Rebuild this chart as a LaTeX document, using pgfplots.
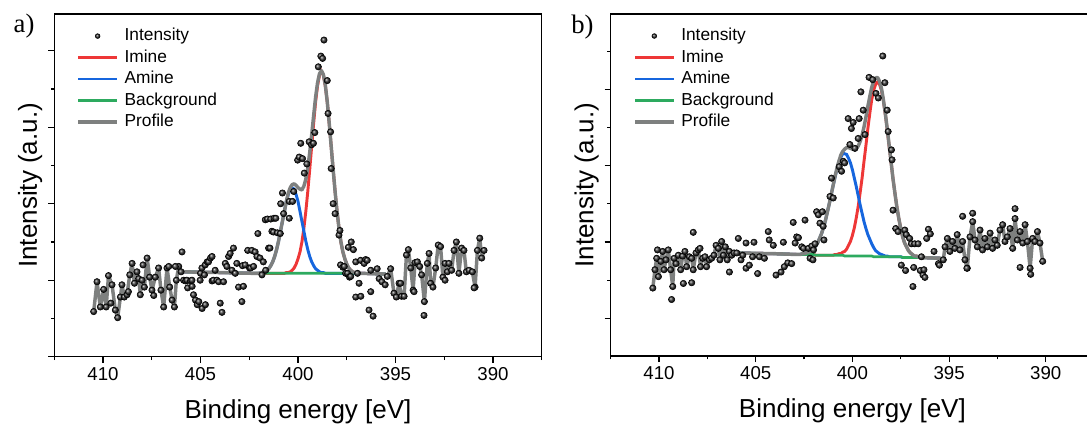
\documentclass[border=0pt]{standalone}
\usepackage{pgfplots}
\pgfplotsset{compat=1.18}
\usepackage{pgfplotstable}
\usepackage{fontspec}
\setmainfont{Liberation Sans}
\newfontfamily\serifab{Liberation Serif}
\definecolor{cimine}{RGB}{238,55,55}
\definecolor{camine}{RGB}{22,102,222}
\definecolor{cbg}{RGB}{45,170,95}
\definecolor{cprof}{RGB}{126,128,127}

% ---------------- Panel a data ----------------
\pgfplotstableread{
E u
410.48 0.59
410.31 0.98
410.14 0.65
409.97 0.88
409.84 0.65
409.72 1.06
409.54 0.94
409.37 0.61
409.25 0.51
409.11 0.78
409.03 0.94
408.91 0.78
408.77 0.81
408.63 1.07
408.51 1.22
408.39 0.96
408.26 1.11
408.17 1.02
408.09 0.81
408.00 1.00
407.88 0.91
407.74 1.29
407.61 1.04
407.49 0.87
407.32 1.04
407.15 1.16
407.03 0.87
406.89 0.65
406.72 1.16
406.58 0.91
406.46 0.74
406.34 0.65
406.24 1.00
406.12 1.18
406.00 1.11
}\Aleft

\pgfplotstableread{
E u
409.60 0.70
408.70 0.85
407.95 1.20
407.40 0.80
406.63 1.18
406.29 1.18
393.54 0.54
394.05 0.85
390.97 0.90
392.46 1.00
394.74 0.96
}\Aextra

\pgfplotstableread{
E u
405.95 1.37
405.87 1.00
405.77 0.99
405.70 1.00
405.66 0.90
405.51 0.99
405.44 1.00
405.43 0.92
405.36 0.81
405.26 0.74
405.17 0.68
405.09 0.72
405.02 1.00
405.00 1.09
404.93 1.16
404.92 0.63
404.80 1.07
404.76 1.20
404.75 0.68
404.66 1.24
404.59 1.24
404.49 1.29
404.41 1.31
404.41 0.99
404.34 1.00
404.25 1.13
404.16 1.00
404.07 0.98
403.99 0.70
403.90 0.58
403.82 0.98
403.73 1.22
403.65 1.18
403.56 1.31
403.48 1.35
403.39 1.13
403.31 1.42
403.22 1.09
403.14 1.22
403.05 0.91
402.88 0.72
402.85 1.19
402.80 0.92
402.71 1.20
402.58 1.39
402.49 1.16
402.43 1.16
402.37 1.39
402.28 1.18
402.20 1.37
402.11 1.31
402.06 1.61
401.95 1.29
401.85 1.07
401.78 1.24
401.68 1.79
401.66 1.13
401.57 1.80
401.51 1.42
401.44 1.42
401.40 1.80
401.34 1.64
401.26 1.63
401.23 1.81
401.14 1.81
401.06 1.62
400.91 1.61
400.89 2.00
400.80 2.14
400.74 1.87
400.45 2.03
400.45 1.81
400.28 2.03
400.22 2.16
400.02 2.57
399.94 2.61
399.86 2.79
399.77 2.59
399.68 2.40
399.55 2.52
399.43 2.81
399.31 2.77
399.21 2.79
399.14 2.93
398.96 3.79
398.83 3.93
398.74 3.90
398.67 4.14
398.50 3.61
398.46 3.18
398.33 2.94
398.30 2.46
398.20 2.00
398.10 1.87
397.90 1.59
397.85 1.65
397.82 1.20
397.70 1.17
397.63 1.18
397.56 1.09
397.42 1.43
397.46 1.09
397.36 1.04
397.30 1.05
397.27 1.50
397.16 1.40
397.04 1.24
397.04 0.78
396.95 1.09
396.87 0.96
396.79 1.26
396.78 0.79
396.61 1.22
396.53 1.27
396.45 1.26
396.36 0.61
396.27 1.13
396.27 0.85
396.15 0.53
395.94 1.15
395.84 1.02
395.70 0.98
395.53 0.94
}\Amid

\pgfplotstableread{
E u
395.42 1.05
395.25 1.15
395.08 0.83
394.96 0.78
394.82 0.96
394.69 0.79
394.56 0.79
394.44 1.33
394.34 1.40
394.22 1.16
394.10 0.87
394.00 1.23
393.88 1.24
393.76 1.18
393.66 1.07
393.52 0.72
393.37 1.22
393.28 1.35
393.20 0.96
393.08 0.91
392.94 1.16
392.81 1.46
392.69 1.44
392.57 1.04
392.46 1.22
392.34 1.11
392.26 1.22
392.12 1.13
392.00 1.39
391.88 1.50
391.75 1.09
391.61 1.42
391.49 1.39
391.37 1.11
391.23 1.13
391.06 1.11
390.92 0.91
390.80 1.39
390.68 1.55
390.58 1.29
390.46 1.39
}\Aright

\pgfplotstableread{
E bg im am pr
406.0 1.11 1.11 1.11 1.11
404.0 1.10 1.10 1.10 1.10
402.3 1.09 1.09 1.09 1.09
402.0 1.09 1.09 1.09 1.09
401.9 1.09 1.09 1.10 1.10
401.8 1.09 1.09 1.10 1.10
401.7 1.09 1.09 1.11 1.11
401.6 1.09 1.09 1.13 1.13
401.5 1.09 1.09 1.15 1.15
401.4 1.09 1.09 1.19 1.19
401.3 1.09 1.09 1.24 1.24
401.2 1.09 1.09 1.31 1.31
401.1 1.09 1.09 1.40 1.40
401.0 1.09 1.09 1.51 1.51
400.9 1.09 1.09 1.64 1.64
400.8 1.09 1.09 1.77 1.77
400.7 1.09 1.09 1.90 1.90
400.6 1.09 1.10 2.03 2.03
400.5 1.09 1.10 2.12 2.14
400.4 1.09 1.11 2.19 2.21
400.3 1.09 1.13 2.21 2.25
400.2 1.09 1.16 2.19 2.26
400.1 1.09 1.21 2.12 2.24
400.0 1.09 1.28 2.03 2.21
399.9 1.09 1.37 1.90 2.19
399.8 1.09 1.50 1.77 2.18
399.7 1.09 1.68 1.64 2.23
399.6 1.09 1.90 1.51 2.32
399.5 1.09 2.16 1.40 2.47
399.4 1.09 2.45 1.31 2.67
399.3 1.09 2.75 1.24 2.90
399.2 1.09 3.05 1.19 3.15
399.1 1.09 3.33 1.15 3.39
399.0 1.09 3.54 1.13 3.58
398.9 1.09 3.68 1.11 3.70
398.8 1.09 3.73 1.10 3.74
398.7 1.09 3.68 1.10 3.69
398.6 1.09 3.54 1.09 3.55
398.5 1.09 3.33 1.09 3.33
398.4 1.09 3.05 1.09 3.05
398.3 1.09 2.75 1.09 2.75
398.2 1.09 2.45 1.09 2.45
398.1 1.09 2.16 1.09 2.16
398.0 1.09 1.90 1.09 1.90
397.9 1.09 1.68 1.09 1.68
397.8 1.09 1.50 1.09 1.50
397.7 1.09 1.37 1.09 1.37
397.6 1.09 1.28 1.09 1.28
397.5 1.09 1.21 1.09 1.21
397.4 1.09 1.16 1.09 1.16
397.3 1.09 1.13 1.09 1.13
397.2 1.09 1.11 1.09 1.11
397.1 1.09 1.10 1.09 1.10
397.0 1.09 1.10 1.09 1.10
396.8 1.09 1.09 1.09 1.09
395.5 1.08 1.08 1.08 1.08
}\Afit

% ---------------- Panel b data ----------------
\pgfplotstableread{
E u
410.32 0.89
410.21 1.13
410.12 1.28
410.03 1.04
409.91 1.24
409.81 1.37
409.74 1.13
409.64 1.26
409.52 1.39
409.40 1.13
409.29 0.91
409.22 1.28
409.12 1.21
409.00 1.32
408.88 1.13
408.78 1.31
408.66 1.37
408.57 1.17
408.43 1.30
408.31 1.28
408.23 1.13
408.09 1.35
407.97 1.39
407.85 1.17
407.74 1.28
407.62 1.30
407.54 1.17
407.40 1.26
407.28 1.28
407.16 1.32
407.05 1.45
406.93 1.41
406.85 1.26
406.76 1.50
406.67 1.32
406.57 1.43
406.47 1.26
406.36 1.37
406.24 1.32
406.12 1.35
405.98 1.35
}\Bleft

\pgfplotstableread{
E u
408.23 1.62
409.35 0.74
408.74 0.95
408.31 0.96
410.08 1.39
407.88 1.41
406.36 1.10
394.30 1.83
393.78 1.87
391.59 1.93
394.08 1.15
391.33 1.16
390.78 1.07
}\Bextra

\pgfplotstableread{
E u
405.90 1.54
405.76 1.26
405.67 1.32
405.50 1.48
405.50 1.15
405.33 1.19
405.16 1.30
405.09 1.49
404.90 1.08
404.81 1.30
404.55 1.28
404.35 1.63
404.30 1.52
404.09 1.45
403.95 1.06
403.69 1.10
403.57 1.49
403.52 1.17
403.34 1.22
403.14 1.21
403.06 1.75
402.96 1.48
402.88 1.56
402.79 1.55
402.62 1.43
402.53 1.41
402.45 1.78
402.27 1.41
402.19 1.28
402.10 1.44
402.04 1.26
402.01 1.39
401.93 1.47
401.85 1.89
401.76 1.85
401.68 1.74
401.55 1.89
401.51 1.70
401.47 1.52
401.16 2.09
401.08 2.33
400.99 2.07
400.68 2.48
400.56 2.42
400.47 2.55
400.40 2.53
400.22 3.11
400.13 2.77
400.05 2.98
399.96 3.06
399.87 2.72
399.70 2.85
399.65 3.11
399.56 3.46
399.44 3.22
399.35 2.90
399.14 3.65
398.95 3.62
398.78 3.44
398.66 3.38
398.43 3.93
398.32 3.58
398.20 3.22
398.15 2.94
397.98 2.70
397.95 2.57
397.90 1.91
397.76 1.67
397.64 1.63
397.47 1.19
397.29 1.65
397.25 1.12
397.21 1.59
397.04 1.54
396.95 1.47
396.87 0.91
396.83 1.16
396.78 1.47
396.60 1.47
396.49 1.12
396.43 1.30
396.35 1.06
396.30 1.13
396.25 1.03
396.16 1.54
396.07 1.66
395.97 1.60
395.78 1.37
395.55 1.21
395.50 1.19
}\Bmid

\pgfplotstableread{
E u
395.30 1.26
395.21 1.43
395.09 1.54
394.96 1.37
394.82 1.50
394.70 1.41
394.58 1.59
394.44 1.39
394.30 1.50
394.18 1.26
394.06 1.15
393.92 1.56
393.78 1.76
393.66 1.52
393.54 1.43
393.40 1.65
393.27 1.39
393.15 1.54
393.02 1.43
392.88 1.61
392.75 1.41
392.63 1.52
392.51 1.45
392.37 1.65
392.23 1.72
392.11 1.50
391.99 1.56
391.85 1.67
391.71 1.41
391.59 1.80
391.47 1.52
391.33 1.63
391.19 1.48
391.07 1.72
390.95 1.50
390.81 1.15
390.68 1.54
390.56 1.50
390.43 1.63
390.30 1.48
390.16 1.24
}\Bright

\pgfplotstableread{
E bg im am pr
406.0 1.35 1.35 1.35 1.35
404.0 1.34 1.34 1.34 1.34
402.9 1.33 1.33 1.33 1.33
402.8 1.33 1.33 1.33 1.33
402.7 1.33 1.33 1.33 1.33
402.6 1.33 1.33 1.34 1.34
402.5 1.33 1.33 1.34 1.34
402.4 1.33 1.33 1.35 1.35
402.3 1.33 1.33 1.36 1.36
402.2 1.33 1.33 1.37 1.37
402.1 1.33 1.33 1.39 1.39
402.0 1.33 1.33 1.41 1.41
401.9 1.32 1.32 1.44 1.44
401.8 1.32 1.32 1.48 1.48
401.7 1.32 1.32 1.54 1.54
401.6 1.32 1.32 1.60 1.60
401.5 1.32 1.32 1.68 1.68
401.4 1.32 1.32 1.77 1.77
401.3 1.32 1.32 1.88 1.88
401.2 1.32 1.32 1.99 1.99
401.1 1.32 1.32 2.11 2.11
401.0 1.32 1.32 2.23 2.23
400.9 1.32 1.33 2.34 2.35
400.8 1.32 1.33 2.45 2.46
400.7 1.32 1.34 2.54 2.55
400.6 1.32 1.34 2.60 2.63
400.5 1.32 1.36 2.65 2.68
400.4 1.31 1.37 2.65 2.71
400.3 1.31 1.40 2.64 2.73
400.2 1.31 1.45 2.59 2.73
400.1 1.31 1.50 2.53 2.72
400.0 1.31 1.58 2.44 2.71
399.9 1.31 1.68 2.33 2.71
399.8 1.31 1.81 2.22 2.72
399.7 1.31 1.96 2.10 2.75
399.6 1.31 2.14 1.98 2.81
399.5 1.31 2.33 1.87 2.89
399.4 1.31 2.55 1.76 3.00
399.3 1.31 2.76 1.67 3.13
399.2 1.31 2.98 1.59 3.27
399.1 1.31 3.18 1.53 3.40
399.0 1.31 3.36 1.47 3.52
398.9 1.30 3.48 1.42 3.60
398.8 1.30 3.56 1.38 3.64
398.7 1.30 3.59 1.36 3.65
398.6 1.30 3.56 1.34 3.60
398.5 1.30 3.48 1.33 3.51
398.4 1.30 3.35 1.32 3.36
398.3 1.30 3.17 1.31 3.18
398.2 1.30 2.97 1.31 2.98
398.1 1.30 2.75 1.30 2.76
398.0 1.30 2.54 1.30 2.54
397.9 1.30 2.32 1.30 2.32
397.8 1.30 2.13 1.30 2.13
397.7 1.30 1.95 1.30 1.95
397.6 1.30 1.80 1.30 1.80
397.5 1.30 1.67 1.30 1.67
397.4 1.29 1.56 1.29 1.56
397.3 1.29 1.48 1.29 1.48
397.2 1.29 1.43 1.29 1.43
397.1 1.29 1.38 1.29 1.38
397.0 1.29 1.35 1.29 1.35
396.9 1.29 1.33 1.29 1.33
396.8 1.29 1.31 1.29 1.31
396.7 1.29 1.31 1.29 1.31
396.6 1.29 1.30 1.29 1.30
396.5 1.29 1.29 1.29 1.29
395.4 1.28 1.28 1.28 1.28
}\Bfit

\pgfplotsset{
  xpsstyle/.style={
    scale only axis,
    anchor=south west,
    x dir=reverse,
    xmin=387.5, xmax=412.5,
    ymin=0, ymax=4.48,
    xtick={390,395,400,405,410},
    minor xtick={387.5,392.5,397.5,402.5,407.5,412.5},
    yticklabels={},
    tick pos=left,
    tick align=outside,
    major tick length=4.5pt,
    minor tick length=2.6pt,
    axis line style={line width=0.9pt},
    every tick/.style={black, line width=0.9pt},
    /pgf/number format/assume math mode=true,
    tick label style={font=\fontsize{14}{16}\selectfont},
    xlabel={Binding energy [eV]},
    ylabel={Intensity (a.u.)},
    label style={font=\fontsize{19.5}{22}\selectfont},
    xlabel style={at={(axis description cs:0.5,-0.179)}, anchor=base},
    ylabel style={at={(axis description cs:-0.036,0.5)}, anchor=base},
    clip=false,
    legend image code/.code={\draw[##1] (0pt,0pt) -- (28.8pt,0pt);},
    legend cell align=left,
    legend style={draw=none, fill=none, inner sep=0pt, outer sep=0pt,
      font=\fontsize{13}{15}\selectfont,
      nodes={inner sep=0pt, text height=9pt, text depth=2pt},
      row sep=5.1pt,
      /tikz/every odd column/.append style={column sep=4.5pt},
      anchor=north west},
  },
  dots/.style={only marks, mark=ball, mark size=2.4pt, ball color=black!80},
  dotlegend/.style={legend image code/.code={\draw[##1, mark size=1.8pt] plot coordinates {(14.4pt,0pt)};}},
  imst/.style={cimine, line width=2.2pt},
  amst/.style={camine, line width=2.2pt},
  bgst/.style={cbg, line width=2.0pt},
  prst/.style={cprof, line width=2.6pt, line join=round},
}

\begin{document}
\begin{tikzpicture}
% ---------------- Panel a ----------------
\begin{axis}[xpsstyle,
  at={(40.73pt,51.23pt)}, width=365.6pt, height=257.0pt,
  ytick={0,1,2,3,4}, minor ytick={0.5,1.5,2.5,3.5},
  legend style={at={(axis description cs:0.046,0.957)}}]
\addlegendimage{dots, dotlegend}
\addlegendentry{Intensity}
\addplot[imst] table[x=E, y=im] {\Afit}; \addlegendentry{Imine}
\addplot[amst] table[x=E, y=am] {\Afit}; \addlegendentry{Amine}
\addplot[bgst] table[x=E, y=bg] {\Afit}; \addlegendentry{Background}
\addplot[prst] table[x=E, y=pr] {\Afit}; \addlegendentry{Profile}
\addplot[prst, forget plot] table[x=E, y=u] {\Aleft};
\addplot[prst, forget plot] table[x=E, y=u] {\Aright};
\addplot[dots, forget plot] table[x=E, y=u] {\Aleft};
\addplot[dots, forget plot] table[x=E, y=u] {\Aright};
\addplot[dots, forget plot] table[x=E, y=u] {\Amid};
\addplot[dots, forget plot] table[x=E, y=u] {\Aextra};
\node[font=\serifab\fontsize{20}{24}\selectfont, anchor=base west] at (axis description cs:-0.093,0.945) {a)};
\end{axis}

% ---------------- Panel b ----------------
\begin{axis}[xpsstyle,
  at={(458.0pt,51.75pt)}, width=362.6pt, height=256.5pt,
  ytick={0.494,1.494,2.494,3.494}, minor ytick={0.994,1.994,2.994,3.994},
  legend style={at={(axis description cs:0.047,0.957)}}]
\addlegendimage{dots, dotlegend}
\addlegendentry{Intensity}
\addplot[imst] table[x=E, y=im] {\Bfit}; \addlegendentry{Imine}
\addplot[amst] table[x=E, y=am] {\Bfit}; \addlegendentry{Amine}
\addplot[bgst] table[x=E, y=bg] {\Bfit}; \addlegendentry{Background}
\addplot[prst] table[x=E, y=pr] {\Bfit}; \addlegendentry{Profile}
\addplot[prst, forget plot] table[x=E, y=u] {\Bleft};
\addplot[prst, forget plot] table[x=E, y=u] {\Bright};
\addplot[dots, forget plot] table[x=E, y=u] {\Bleft};
\addplot[dots, forget plot] table[x=E, y=u] {\Bright};
\addplot[dots, forget plot] table[x=E, y=u] {\Bmid};
\addplot[dots, forget plot] table[x=E, y=u] {\Bextra};
\node[font=\serifab\fontsize{20}{24}\selectfont, anchor=base west] at (axis description cs:-0.091,0.944) {b)};
\end{axis}
\pgfresetboundingbox
\useasboundingbox (0pt,0pt) rectangle (815.25pt,318.75pt);
\end{tikzpicture}
\end{document}
